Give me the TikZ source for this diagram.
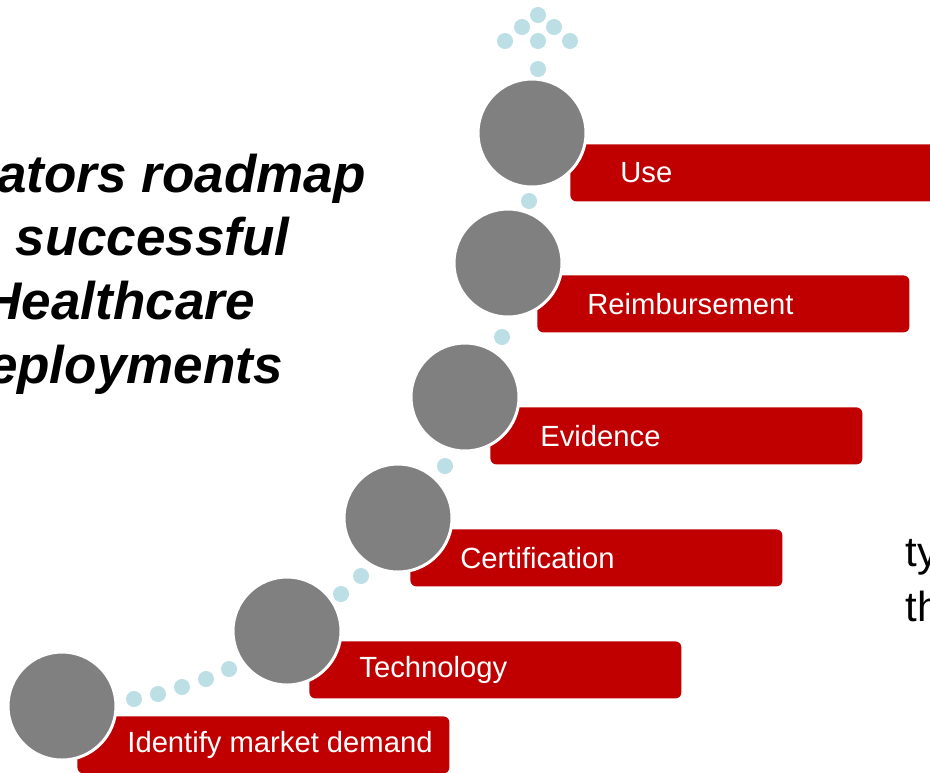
\documentclass[tikz,border=0pt]{standalone}
\usepackage{fontspec}
\setmainfont{Liberation Sans}
\usepackage{xcolor}
\usepackage{tikz}
\usetikzlibrary{positioning}

\definecolor{stepred}{RGB}{192,0,0}
\definecolor{stepgrey}{RGB}{128,128,128}
\definecolor{dotblue}{RGB}{187,223,228}

\tikzset{
    stagebar/.style={fill=stepred, rounded corners=3pt, minimum width=186pt,
        minimum height=28.5pt, inner sep=0pt, anchor=north west},
    stagetext/.style={text=white, inner sep=0pt, font=\fontsize{14.6}{17}\selectfont},
    stagecircle/.style={circle, fill=stepgrey, draw=white, line width=1.5pt,
        minimum size=54pt, inner sep=0pt},
    pathdot/.style={circle, fill=dotblue, minimum size=8pt, inner sep=0pt},
    headline/.style={anchor=base east, inner sep=0pt,
        font=\fontsize{26.5}{32}\selectfont\bfseries\itshape},
    sidetext/.style={anchor=base west, inner sep=0pt, font=\fontsize{21}{25}\selectfont}
}

\begin{document}
\begin{tikzpicture}[x=0.5pt,y=-0.5pt]
        \useasboundingbox (0,0) rectangle (930,772);
        \clip (0,0) rectangle (930,772);

        % title lines
        \node[headline] (title1) at (366,192) {ators roadmap};
        \node[headline] (title2) at (290,255) {successful};
        \node[headline] (title3) at (255,319) {Healthcare};
        \node[headline] (title4) at (283,383) {eployments};

        % text on the right
        \node[sidetext] (side1) at (905,566) {ty};
        \node[sidetext] (side2) at (905,621) {th};

        % bars
        \node[stagebar] (demand) at (77,716) {};
        \node[stagebar] (tech) at (309,641) {};
        \node[stagebar] (cert) at (410,529) {};
        \node[stagebar] (evid) at (490,407) {};
        \node[stagebar] (reimb) at (537,275) {};
        \node[stagebar] (use) at (570,144) {};

        \node[stagetext, right=25pt of demand.west, anchor=west] (demandtxt) {Identify market demand};
        \node[stagetext, right=25pt of tech.west, anchor=west] (techtxt) {Technology};
        \node[stagetext, right=25pt of cert.west, anchor=west] (certtxt) {Certification};
        \node[stagetext, right=25pt of evid.west, anchor=west] (evidtxt) {Evidence};
        \node[stagetext, right=25pt of reimb.west, anchor=west] (reimbtxt) {Reimbursement};
        \node[stagetext, right=25pt of use.west, anchor=west] (usetxt) {Use};

        % circles
        \node[stagecircle] (cdemand) at (62,706) {};
        \node[stagecircle] (ctech) at (287,631) {};
        \node[stagecircle] (ccert) at (398,518) {};
        \node[stagecircle] (cevid) at (465,397) {};
        \node[stagecircle] (creimb) at (508,263) {};
        \node[stagecircle] (cuse) at (532,133) {};

        % dotted trail and arrow head
        \foreach \x/\y [count=\i] in {134/699, 158/694, 182/687, 206/679, 229/669,
                341/594, 361/576, 445/466, 502/337, 529/201, 538/69,
                505/41, 538/41, 570/41, 522/27, 554/27, 538/15}
            \node[pathdot] (dot\i) at (\x,\y) {};
    \end{tikzpicture}
\end{document}
